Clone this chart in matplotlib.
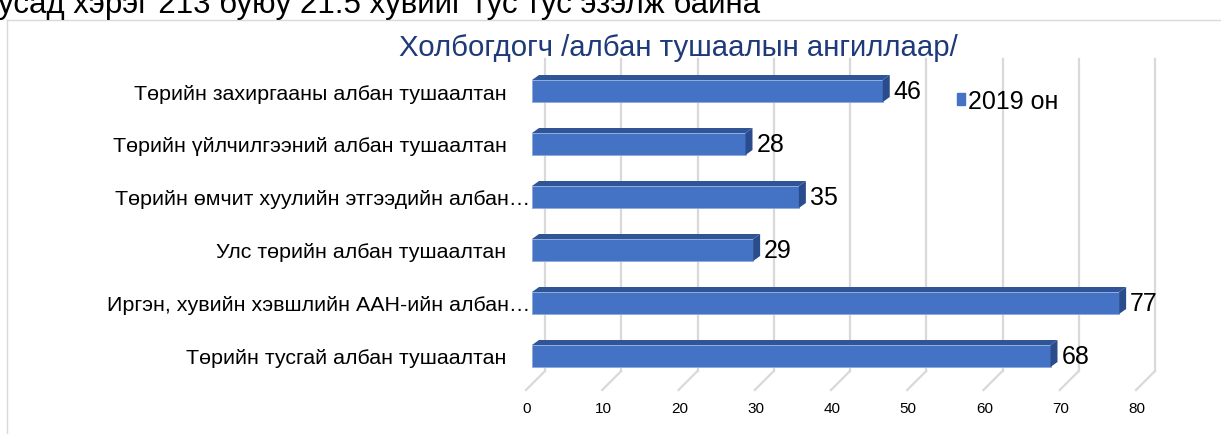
import matplotlib
matplotlib.use("Agg")
import matplotlib.pyplot as plt
from matplotlib.patches import Polygon, Patch
from matplotlib.lines import Line2D

plt.rcParams['font.family'] = ['Liberation Sans', 'DejaVu Sans']

# data (bottom to top, as drawn)
categories = [
    "Төрийн тусгай албан тушаалтан    ",
    "Иргэн, хувийн хэвшлийн ААН-ийн албан…",
    "Улс төрийн албан тушаалтан    ",
    "Төрийн өмчит хуулийн этгээдийн албан…",
    "Төрийн үйлчилгээний албан тушаалтан    ",
    "Төрийн захиргааны албан тушаалтан    ",
]
values = [68, 77, 29, 35, 28, 46]
xticks = [0, 10, 20, 30, 40, 50, 60, 70, 80]
series_name = "2019 он"
title = "Холбогдогч /албан тушаалын ангиллаар/"
above_text = "усад хэрэг 213 буюу 21.5 хувийг тус тус эзэлж байна"

W, H = 1221, 435
fig = plt.figure(figsize=(W / 100, H / 100), dpi=100)

front = "#4472C4"
top_c = "#2F5597"
side_c = "#2B4C8C"
grid_c = "#D9D9D9"

# axes placed in pixels
x0, x1 = 532, 1142
ybot, ytop = H - 372, H - 60
ax = fig.add_axes([x0 / W, ybot / H, (x1 - x0) / W, (ytop - ybot) / H])
row_px = 53.0
ylo = -(H - 357 - ybot) / row_px
yhi = ylo + (ytop - ybot) / row_px
ax.set_xlim(0, 80)
ax.set_ylim(ylo, yhi)
px_x = 80 / (x1 - x0)   # data units per pixel, x
px_y = 1 / row_px       # data units per pixel, y

bh = 22 * px_y
ddx, ddy = 7 * px_x, 5 * px_y
back = 13 * px_x
fdx, fdy = 19 * px_x, 19 * px_y

# back wall gridlines + floor
for v in xticks:
    ax.plot([v + back, v + back], [ylo, yhi], color=grid_c, lw=1.6, zorder=0,
            clip_on=False)
    ax.plot([v + back, v + back - fdx], [ylo, ylo - fdy], color=grid_c, lw=1.6,
            zorder=0, clip_on=False)
    ax.text(v + back - fdx + 1 * px_x, ylo - 37 * px_y, str(v), ha="center",
            va="center", fontsize=11, color="#000000", clip_on=False)

ys = list(range(len(categories)))
ax.barh(ys, values, height=bh, color=front, edgecolor="#8FAADC", linewidth=0.6,
        zorder=3)
for y, v in zip(ys, values):
    t = y + bh / 2
    b = y - bh / 2
    ax.add_patch(Polygon([(0, t), (v, t), (v + ddx, t + ddy), (ddx, t + ddy)],
                         closed=True, facecolor=top_c, edgecolor="none", zorder=3))
    ax.add_patch(Polygon([(v, b), (v, t), (v + ddx, t + ddy), (v + ddx, b + ddy)],
                         closed=True, facecolor=side_c, edgecolor="none", zorder=3))
    ax.text(v + ddx + 4 * px_x, y, str(v), ha="left", va="center", fontsize=18,
            color="#000000")

ax.set_yticks(ys)
ax.set_yticklabels(categories, fontsize=15.4)
ax.tick_params(axis="y", length=0, pad=1)
ax.set_xticks([])
for s in ax.spines.values():
    s.set_visible(False)
ax.patch.set_alpha(0)

ax.legend([Patch(color=front)], [series_name], loc="center left",
          bbox_to_anchor=(957 / W, 1 - 102 / H), bbox_transform=fig.transFigure,
          frameon=False, fontsize=18, handlelength=0.32, handleheight=0.32,
          handletextpad=0.12, borderpad=0, borderaxespad=0)

fig.text(0.5 + (678 - W / 2) / W, 1 - 48 / H, title, ha="center", va="center",
         fontsize=21.2, color="#1F3A78")

# chart frame
fig.add_artist(Line2D([7 / W, 7 / W], [0, 1 - 21 / H], transform=fig.transFigure,
                      color=grid_c, lw=1))
fig.add_artist(Line2D([7 / W, 1], [1 - 21 / H, 1 - 21 / H],
                      transform=fig.transFigure, color=grid_c, lw=1))

fig.text(-2 / W, 1 - 13 / H, above_text, ha="left", va="baseline", fontsize=22.5,
         color="#000000")

fig.savefig("out.png", dpi=100)
